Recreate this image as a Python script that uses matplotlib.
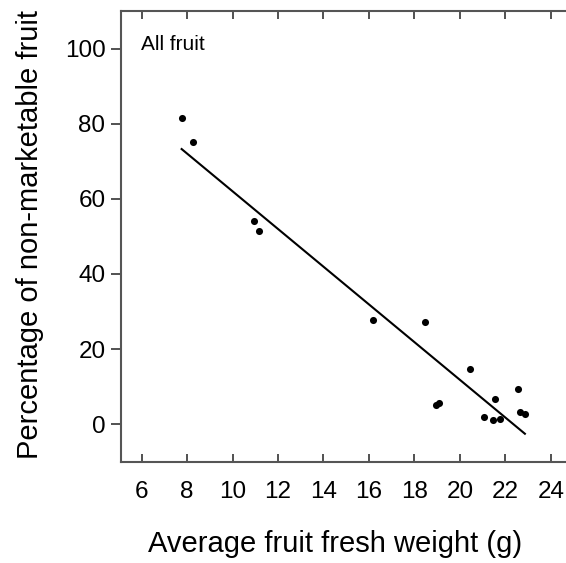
import numpy as np
import matplotlib.pyplot as plt

plt.rcParams['font.family'] = ['Liberation Sans', 'DejaVu Sans']

# average fruit fresh weight (g) and % non-marketable fruit
weight = [7.76, 8.26, 10.94, 11.16, 16.16, 18.46, 18.95, 19.07, 20.46,
          21.06, 21.46, 21.76, 21.56, 22.57, 22.66, 22.86]
nonmarket = [81.4, 75.0, 54.1, 51.3, 27.6, 27.3, 5.2, 5.6, 14.8,
             1.9, 1.2, 1.3, 6.7, 9.3, 3.3, 2.7]

# regression line
slope = -5.02
intercept = 112.2

xticks = [6, 8, 10, 12, 14, 16, 18, 20, 22, 24]
yticks = [0, 20, 40, 60, 80, 100]

fig = plt.figure(figsize=(5.66, 5.63), dpi=100)
ax = fig.add_axes([120.7/566, 1 - 461.7/563, 448.3/566, 450.7/563])

ax.scatter(weight, nonmarket, s=26, color='black', zorder=3, linewidths=0)

xf = np.array([min(weight), max(weight)])
ax.plot(xf, slope*xf + intercept, color='black', lw=1.5)

ax.set_xlim(5.08, 24.8)
ax.set_ylim(-10, 110)
ax.set_xticks(xticks)
ax.set_yticks(yticks)

ax.tick_params(axis='x', direction='in', top=True, length=6, width=1.2,
               labelsize=17.5, pad=14, colors='#333333', labelcolor='black')
ax.tick_params(axis='y', direction='out', length=7, width=1.2,
               labelsize=17.5, pad=4, colors='#333333', labelcolor='black')
for side in ['left', 'bottom', 'top']:
    ax.spines[side].set_color('#555555')
    ax.spines[side].set_linewidth(1.5)
ax.spines['right'].set_visible(False)

ax.set_xlabel('Average fruit fresh weight (g)', fontsize=21)
ax.set_ylabel('Percentage of non-marketable fruit', fontsize=21)
ax.xaxis.set_label_coords(0.478, -0.152)
ax.yaxis.set_label_coords(-0.17, 0.505)

ax.text(141/566, 1 - 44/563, 'All fruit', transform=fig.transFigure,
        fontsize=15, va='center', ha='left')

fig.savefig('out.png', dpi=100)
